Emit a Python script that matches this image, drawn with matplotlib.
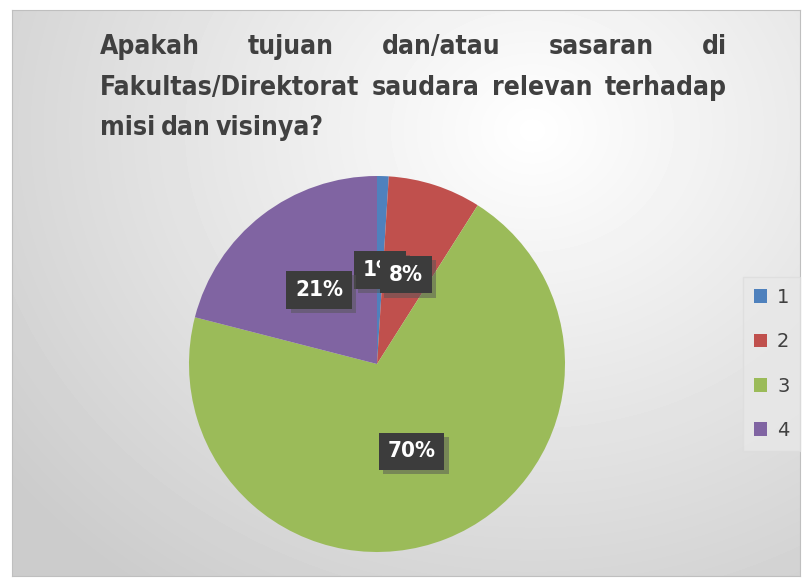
import numpy as np
import matplotlib
matplotlib.use("Agg")
import matplotlib.pyplot as plt
from matplotlib.patches import Patch
import matplotlib.patheffects as pe

title_lines = [
    ["Apakah", "tujuan", "dan/atau", "sasaran", "di"],
    ["Fakultas/Direktorat", "saudara", "relevan", "terhadap"],
    ["misi", "dan", "visinya?"],
]
categories = ["1", "2", "3", "4"]
values = [1, 8, 70, 21]
colors = ["#4f81bd", "#c0504d", "#9bbb59", "#8064a2"]

W, H = 805, 578
fig = plt.figure(figsize=(W / 100, H / 100), dpi=100)
fig.patch.set_facecolor("white")

# radial gradient background of the chart area
bg = fig.add_axes([12 / W, 1 - 576 / H, 788 / W, 566 / H], zorder=0)
yy, xx = np.mgrid[0:566, 0:788]
d = np.sqrt(((xx - 520) / 560.0) ** 2 + ((yy - 120) / 480.0) ** 2)
shade = np.clip(1.0 - 0.17 * d, 0.8, 1.0)
bg.imshow(shade, cmap="gray", vmin=0, vmax=1, aspect="auto", interpolation="bilinear")
bg.set_xticks([])
bg.set_yticks([])
for s in bg.spines.values():
    s.set_color("#bfbfbf")
    s.set_linewidth(0.8)

# pie
r = 188
cx, cy = 377, 364
ax = fig.add_axes([(cx - r) / W, (H - cy - r) / H, 2 * r / W, 2 * r / H], zorder=2)
wedges, texts, autotexts = ax.pie(
    values, colors=colors, startangle=90, counterclock=False,
    autopct="%d%%", pctdistance=0.5,
    wedgeprops=dict(linewidth=0),
    textprops=dict(color="white", fontsize=16, fontweight="bold",
                   family="DejaVu Sans", fontstretch="condensed"),
)
ax.set_xlim(-1, 1)
ax.set_ylim(-1, 1)
ax.set_aspect("equal")
for t in autotexts:
    t.set_bbox(dict(boxstyle="square,pad=0.4", facecolor="#3c3c3c", edgecolor="none"))
    t.get_bbox_patch().set_path_effects(
        [pe.SimplePatchShadow(offset=(3, -3), shadow_rgbFace="#555555", alpha=0.5), pe.Normal()])

# legend
handles = [Patch(facecolor=c, edgecolor="none") for c in colors]
leg = fig.legend(handles, categories, loc="center left",
                 bbox_to_anchor=(743 / W, 1 - 364 / H), borderaxespad=0,
                 frameon=True, fontsize=14, labelspacing=1.3,
                 handlelength=0.7, handleheight=0.7, handletextpad=0.5,
                 borderpad=0.55, labelcolor="#404040")
leg.get_frame().set_facecolor("#e8e8e8")
leg.get_frame().set_edgecolor("#dddddd")
leg.get_frame().set_boxstyle("square,pad=0")
leg.set_zorder(3)

# justified title
fig.canvas.draw()
renderer = fig.canvas.get_renderer()
x0, x1 = 100, 727
line_y = [47, 88, 128]
for i, words in enumerate(title_lines):
    objs = [fig.text(0, 1 - line_y[i] / H, w, fontsize=19, fontweight="bold",
                     color="#404040", family="DejaVu Sans", fontstretch="condensed",
                     va="center", ha="left")
            for w in words]
    widths = [o.get_window_extent(renderer).width for o in objs]
    if i < len(title_lines) - 1:
        gap = (x1 - x0 - sum(widths)) / (len(words) - 1)
    else:
        gap = objs[0].get_window_extent(renderer).height * 0.2
    x = x0
    for o, w in zip(objs, widths):
        o.set_x(x / W)
        x += w + gap

fig.savefig("out.png", dpi=100)
